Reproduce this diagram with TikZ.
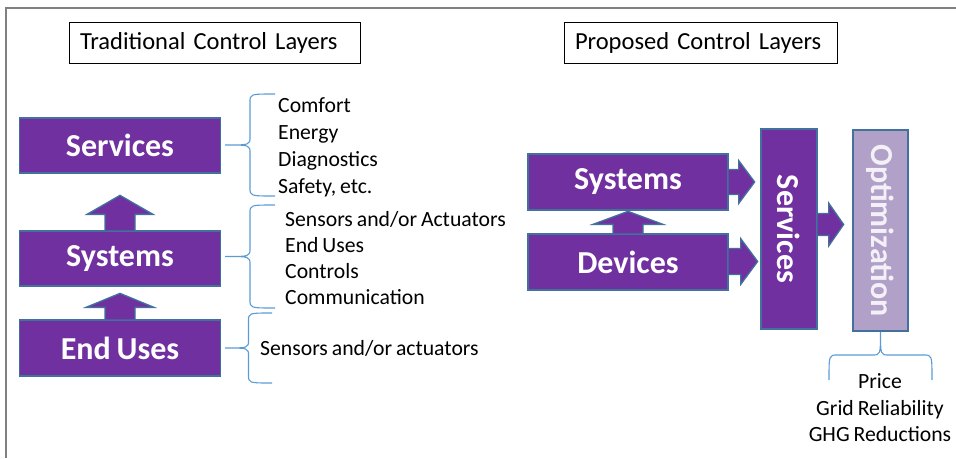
\documentclass[tikz,border=0pt]{standalone}
\usepackage{fontspec}
\setmainfont[WordSpace=0.8]{Carlito}
\usetikzlibrary{calc}
\definecolor{purp}{HTML}{7030A0}
\definecolor{edgeb}{HTML}{41719C}
\definecolor{lav}{HTML}{B1A0C7}
\definecolor{lavtext}{HTML}{F4F0F8}
\definecolor{brc}{HTML}{5B9BD5}
\definecolor{framec}{HTML}{808080}
% block arrow: #1 start, #2 angle, #3 shaft length, #4 head length, #5 shaft half width, #6 head half width
\newcommand\blockarr[6]{%
  \filldraw[barrow, shift={(#1)}, rotate=#2]
    (0,-#5) -- (#3,-#5) -- (#3,-#6) -- (#3+#4,0) -- (#3,#6) -- (#3,#5) -- (0,#5);}
% vertical brace opening right: #1 x of ends, #2 y top, #3 y bottom, #4 x tip
\newcommand\vbrace[4]{%
  \draw[bracel] (#1,#2) .. controls ({(#1+#4)/2},#2) .. ({(#1+#4)/2},#2+8)
    -- ({(#1+#4)/2},{(#2+#3)/2-8}) .. controls ({(#1+#4)/2},{(#2+#3)/2}) .. (#4,{(#2+#3)/2})
    .. controls ({(#1+#4)/2},{(#2+#3)/2}) .. ({(#1+#4)/2},{(#2+#3)/2+8})
    -- ({(#1+#4)/2},#3-8) .. controls ({(#1+#4)/2},#3) .. (#1,#3);}
\begin{document}
\begin{tikzpicture}[x=1pt,y=-1pt,
  box/.style={draw=edgeb, line width=1.3pt, fill=purp, text=white,
    font=\fontsize{32}{36}\selectfont\bfseries, inner sep=0pt},
  barrow/.style={draw=edgeb, line width=1.3pt, fill=purp, line join=miter},
  bracel/.style={draw=brc, line width=1.1pt},
  titlebox/.style={draw=black, line width=1pt, minimum height=41pt,
    font=\fontsize{24.5}{28}\selectfont, align=left, inner xsep=11pt, inner ysep=0pt},
  item/.style={font=\fontsize{21.7}{26}\selectfont, inner sep=0pt, text height=13.8pt, text depth=0pt}
  ]
\useasboundingbox (0,0) rectangle (956,458);
% frame
\draw[framec, line width=2pt] (6,458) -- (6,8) -- (956,8);
% titles
\node[titlebox, text width=269pt] (t1) at (214.5,42.5) {Traditional Control Layers};
\node[titlebox, text width=251pt] (t2) at (700.5,42.5) {Proposed Control Layers};
% left stack
\node[box, minimum width=201pt, minimum height=55pt] (lserv) at (120,145.5) {Services};
\node[box, minimum width=201pt, minimum height=55pt] (lsys) at (120,258.5) {Systems};
\node[box, minimum width=201pt, minimum height=56pt] (lend) at (120,348) {End Uses};
\blockarr{lsys.north}{90}{16}{19}{15}{33}
\blockarr{lend.north}{90}{12}{14}{15}{34}
% braces left
\vbrace{275}{94}{196}{225}
\vbrace{275}{205}{308}{225}
\vbrace{272}{313}{383}{225}
% left lists
\node[item, anchor=west] (c1) at (278,106) {Comfort};
\node[item, anchor=west] (c2) at (278,133) {Energy};
\node[item, anchor=west] (c3) at (278,160) {Diagnostics};
\node[item, anchor=west] (c4) at (278,186.5) {Safety, etc.};
\node[item, anchor=west] (s1) at (285,219.3) {Sensors and/or Actuators};
\node[item, anchor=west] (s2) at (285,246) {End Uses};
\node[item, anchor=west] (s3) at (285,271.7) {Controls};
\node[item, anchor=west] (s4) at (285,297.5) {Communication};
\node[item, anchor=west] (e1) at (260,349) {Sensors and/or actuators};
% right side
\node[box, minimum width=200pt, minimum height=56pt] (rsys) at (628,182) {Systems};
\node[box, minimum width=200pt, minimum height=56pt] (rdev) at (628,262) {Devices};
\node[box, minimum width=56pt, minimum height=200pt] (rserv) at (789,229) {\rotatebox{-90}{Services}};
\node[box, fill=lav, text=lavtext, line width=1.8pt, minimum width=55pt, minimum height=201pt] (ropt) at (880.5,230.5) {\rotatebox{-90}{Optimization}};
\blockarr{rdev.north}{90}{9}{13}{15}{35}
\blockarr{rsys.east}{0}{10}{16}{12.5}{21.5}
\blockarr{$(rdev.east)+(0,-0.5)$}{0}{12}{17}{13}{23}
\blockarr{$(rserv.east)+(0,-4.5)$}{0}{11}{15}{11}{21.5}
% bottom brace
\draw[bracel] (829,380) .. controls (829,355) .. (837,355) -- (872,355)
  .. controls (880.5,355) .. (ropt.south) .. controls (880.5,355) .. (889,355)
  -- (924,355) .. controls (932,355) .. (932,380);
\node[item] (p1) at (880,381.3) {Price};
\node[item] (p2) at (880,408.3) {Grid Reliability};
\node[item] (p3) at (880,434.3) {GHG Reductions};
\end{tikzpicture}
\end{document}
